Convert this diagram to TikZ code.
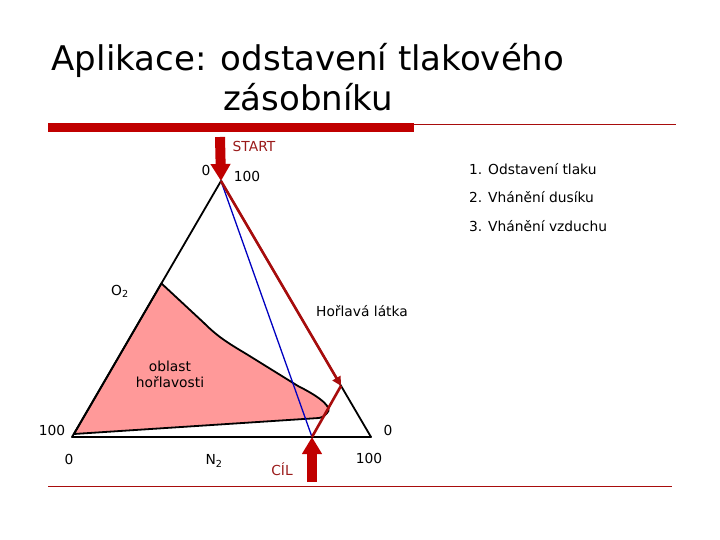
\documentclass[tikz,border=0pt]{standalone}
\usepackage{fontspec}
\setmainfont{DejaVu Sans}
\usepackage{xcolor}
\usetikzlibrary{arrows.meta, positioning, calc}
\definecolor{barred}{HTML}{C00000}
\definecolor{darkred}{HTML}{A80C0C}
\definecolor{labelred}{HTML}{9A1A1A}
\definecolor{zonepink}{HTML}{FF9999}
\definecolor{mixblue}{HTML}{0000C0}
\tikzset{every node/.style={font=\normalfont\fontsize{13.8}{16}\selectfont, inner sep=0pt}}

\begin{document}
\begin{tikzpicture}[x=1pt, y=-1pt]
    % Define styles
    \tikzstyle{lbl} = [text=black]
    \tikzstyle{redlbl} = [text=labelred]
    \tikzstyle{side} = [black, line width=1.8pt, line join=round]
    \tikzstyle{zone} = [fill=zonepink, draw=black, line width=1.8pt, line join=round]
    \tikzstyle{mixline} = [mixblue, line width=1.3pt]
    \tikzstyle{routearrow} = [darkred, line width=2.6pt, -{Triangle[length=9pt, width=9pt]}]
    \tikzstyle{routeline} = [darkred, line width=2.6pt]
    \tikzstyle{bigarrow} = [barred, line width=10pt, -{Triangle[length=17pt, width=19pt]}]
    \tikzstyle{rule} = [darkred, line width=0.8pt]

    \useasboundingbox (0,0) rectangle (720,540);

    % Title
    \node (title) [align=center, font=\normalfont\fontsize{34}{40}\selectfont] at (308,77)
        {Aplikace: odstavení tlakového\\zásobníku};

    % Rules
    \fill[barred] (48,123) rectangle (414,132);
    \draw[rule] (414,124) -- (676,124);
    \draw[rule] (48,486) -- (672,486);

    % Triangle corners
    \coordinate (apex) at (221,181);
    \coordinate (left) at (72,437);
    \coordinate (right) at (371,437);
    \coordinate (turn) at ($(apex)!0.8!(right)$);
    \coordinate (goal) at (312,437);
    \coordinate (zonetop) at ($(apex)!0.4!(left)$);
    \coordinate (starttop) at (220,137);
    \coordinate (goalbottom) at (312,482);

    % Flammable zone
    \draw[zone] (zonetop) -- (204,323) .. controls (218,337) and (228,343) .. (248,355)
        -- (298,386) .. controls (322,398) and (333,408) .. (327,413)
        .. controls (325,416) and (323,417) .. (319,418) -- (74,434) -- cycle;

    % Triangle
    \draw[side] (apex) -- (left) -- (right) -- cycle;

    % Mixing line
    \draw[mixline] (apex) -- (goal);

    % Route
    \draw[routearrow] (apex) -- (turn);
    \draw[routeline] (goal) -- (turn);

    % Start and goal arrows
    \draw[bigarrow] (starttop) -- (apex);
    \draw[bigarrow] (goalbottom) -- (goal);

    % Labels
    \node (start) [redlbl] at (254,146) {START};
    \node (cil) [redlbl] at (282,469) {CÍL};
    \node (apexo) [lbl] at (206,170) {0};
    \node (apexn) [lbl] at (247,176) {100};
    \node (step1) [lbl, anchor=west] at (469,169) {1. Odstavení tlaku};
    \node (step2) [lbl, anchor=west] at (469,197) {2. Vhánění dusíku};
    \node (step3) [lbl, anchor=west] at (469,226) {3. Vhánění vzduchu};
    \node (oxy) [lbl] at (120,291) {O\textsubscript{2}};
    \node (fuel) [lbl] at (362,311) {Hořlavá látka};
    \node (zonelbl) [lbl, align=center] at (170,374) {oblast\\hořlavosti};
    \node (lefto) [lbl] at (52,430) {100};
    \node (righto) [lbl] at (388,430) {0};
    \node (basel) [lbl] at (69,459) {0};
    \node (nitro) [lbl] at (214,461) {N\textsubscript{2}};
    \node (baser) [lbl] at (369,458) {100};
\end{tikzpicture}
\end{document}
